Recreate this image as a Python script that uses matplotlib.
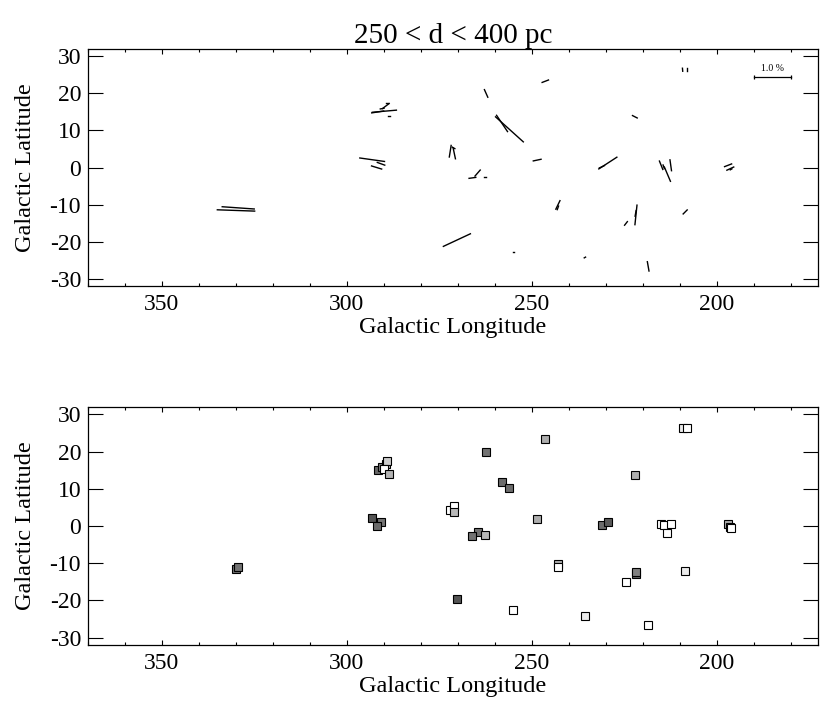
import numpy as np
import matplotlib
matplotlib.use("Agg")
import matplotlib.pyplot as plt
from matplotlib.collections import LineCollection
from matplotlib.ticker import MultipleLocator

plt.rcParams["font.family"] = ["Liberation Serif", "DejaVu Serif"]
plt.rcParams["axes.unicode_minus"] = False

# stars: galactic position, polarization (%), position angle (deg, N -> +l), marker gray
glon = [330.0, 329.4, 293.2, 290.8, 292.0,
        291.7, 290.5, 289.5, 289.2, 289.9, 288.6,
        272.1, 271.2, 271.0,
        264.7, 266.1, 262.7, 262.4, 258.1, 256.1, 270.3, 255.0,
        248.6, 246.4, 222.2, 209.3, 208.0, 231.1, 229.5,
        215.1, 214.4, 212.5, 213.4, 197.0, 196.4, 196.2,
        243.0, 243.0, 221.9, 222.0, 224.6, 208.6, 235.7, 218.6]
glat = [-11.6, -10.9, 2.1, 1.0, 0.0,
        15.0, 15.9, 16.6, 17.4, 15.2, 13.9,
        4.4, 5.3, 3.8,
        -1.5, -2.8, -2.5, 20.0, 11.9, 10.3, -19.6, -22.7,
        2.0, 23.3, 13.7, 26.4, 26.4, 0.2, 1.2,
        0.6, 0.2, 0.6, -1.8, 0.6, -0.3, -0.5,
        -10.1, -10.9, -12.8, -12.4, -15.1, -12.0, -24.3, -26.7]
pol = [0.99, 0.85, 0.66, 0.21, 0.28,
       0.32, 0.10, 0.22, 0.05, 0.64, 0.05,
       0.31, 0.08, 0.29,
       0.21, 0.18, 0.03, 0.22, 0.52, 0.99, 0.79, 0.03,
       0.21, 0.18, 0.14, 0.08, 0.08, 0.15, 0.57,
       0.24, 0.10, 0.29, 0.41, 0.20, 0.20, 0.05,
       0.25, 0.10, 0.52, 0.15, 0.12, 0.15, 0.04, 0.25]
pang = [88, 86, 82, 70, 73,
        99, 100, 127, 90, 95, 90,
        171, 60, 12,
        139, 98, 90, 24, 34, 48, 115, 90,
        102, 111, 63, 5, 0, 115, 123,
        22, 20, 8, 23, 111, 115, 120,
        154, 160, 174, 170, 142, 135, 120, 10]
shade = [0.45, 0.45, 0.33, 0.45, 0.42,
         0.40, 0.50, 0.70, 0.80, 1.0, 0.70,
         1.0, 1.0, 0.72,
         0.45, 0.45, 0.72, 0.45, 0.42, 0.42, 0.33, 1.0,
         0.68, 0.68, 0.68, 0.92, 1.0, 0.42, 0.35,
         1.0, 1.0, 1.0, 1.0, 0.68, 1.0, 1.0,
         0.68, 1.0, 0.40, 0.50, 1.0, 0.92, 0.92, 1.0]

scale = 10.2   # degrees of length per 1 % polarization
xticks_major = [350, 300, 250, 200]
yticks_major = [-30, -20, -10, 0, 10, 20, 30]


def style_axes(ax):
    ax.set_xlim(370, 172.7)
    ax.set_ylim(-32, 32)
    ax.set_xticks(xticks_major)
    ax.xaxis.set_minor_locator(MultipleLocator(10))
    ax.set_yticks(yticks_major)
    ax.tick_params(axis="both", which="both", direction="in", top=True, right=True, labelsize=17)
    ax.tick_params(axis="x", which="major", length=3.8, width=0.8, pad=6)
    ax.tick_params(axis="x", which="minor", length=2.0, width=0.8)
    ax.tick_params(axis="y", which="major", length=10.5, width=0.8, pad=5)
    for s in ax.spines.values():
        s.set_linewidth(0.9)
    ax.set_xlabel("Galactic Longitude", fontsize=17.5, labelpad=1)
    ax.set_ylabel("Galactic Latitude", fontsize=17.5, labelpad=10)


fig = plt.figure(figsize=(8.25, 7.11), dpi=100)
ax1 = fig.add_axes([88 / 825, 1 - 286 / 711, 730 / 825, 237 / 711])
ax2 = fig.add_axes([88 / 825, 1 - 645 / 711, 730 / 825, 238 / 711])

# top: polarization vectors
l = np.array(glon)
b = np.array(glat)
half = 0.5 * np.array(pol) * scale
th = np.radians(pang)
dl = half * np.sin(th)
db = half * np.cos(th)
segs = [[(l[i] - dl[i], b[i] - db[i]), (l[i] + dl[i], b[i] + db[i])] for i in range(len(l))]
ax1.add_collection(LineCollection(segs, colors="black", linewidths=1.0, capstyle="projecting"))

# 1 % scale bar
bar_l, bar_b = 190.1, 24.5
ax1.plot([bar_l, bar_l - 1.0 * scale], [bar_b, bar_b], color="black", lw=0.9,
         marker="|", markersize=3, markeredgewidth=0.9)
ax1.text(bar_l - 0.5 * scale, bar_b + 0.9, "1.0 %", fontsize=7, ha="center", va="bottom")

style_axes(ax1)
ax1.set_title("250 < d < 400 pc", fontsize=21, pad=4)

# bottom: star positions
for i in range(len(glon)):
    ax2.plot(glon[i], glat[i], marker="s", markersize=6.2, linestyle="none",
             markerfacecolor=str(shade[i]), markeredgecolor="black", markeredgewidth=0.8)
style_axes(ax2)

fig.savefig("out.png", dpi=100)
